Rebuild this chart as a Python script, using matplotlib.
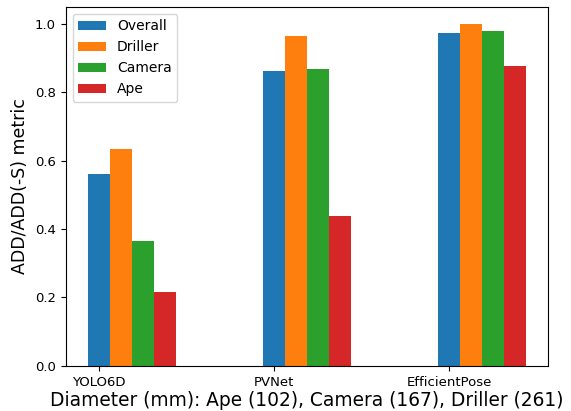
import numpy as np
import matplotlib.pyplot as plt

methods = ["YOLO6D", "PVNet", "EfficientPose"]
overall = [0.560, 0.863, 0.973]
driller = [0.634, 0.964, 0.999]
camera = [0.366, 0.869, 0.980]
ape = [0.217, 0.437, 0.877]

x = np.arange(len(methods))
w = 0.126

fig, ax = plt.subplots(figsize=(5.71, 4.11), dpi=100)
ax.bar(x, overall, w, label="Overall")
ax.bar(x + w, driller, w, label="Driller")
ax.bar(x + 2 * w, camera, w, label="Camera")
ax.bar(x + 3 * w, ape, w, label="Ape")

ax.set_xticks(x)
ax.set_xticklabels(methods)
ax.tick_params(labelsize=9.5)
ax.set_ylabel("ADD/ADD(-S) metric", fontsize=12.5)
ax.set_xlabel("Diameter (mm): Ape (102), Camera (167), Driller (261)", fontsize=13.4, labelpad=2)
ax.legend(loc="upper left")

plt.subplots_adjust(left=0.115, right=0.96, top=0.983, bottom=0.11)
plt.savefig("out.png")
